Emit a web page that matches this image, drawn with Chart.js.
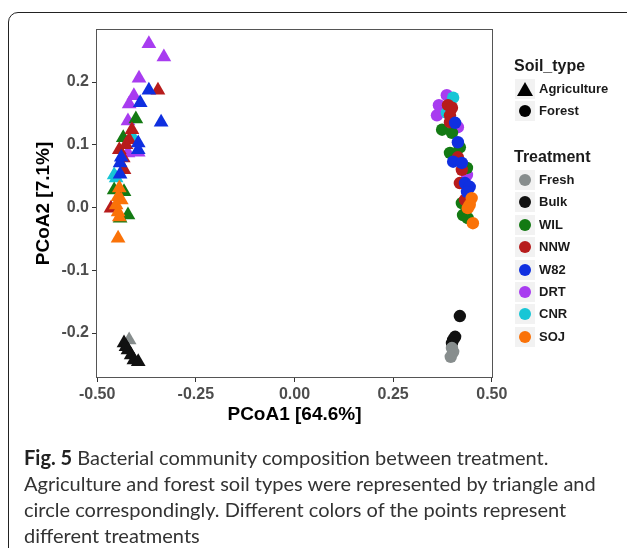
<!DOCTYPE html>
<html>
<head>
<meta charset="utf-8">
<script src="https://cdn.jsdelivr.net/npm/chart.js@4"></script>
<style>
  html, body { margin: 0; padding: 0; background: #fff; }
  body { width: 627px; height: 548px; position: relative; overflow: hidden; }
  #frame { position: absolute; left: 8px; top: 12px; width: 640px; height: 560px;
           border: 1.5px solid #222; border-radius: 10px; box-sizing: border-box; }
  #wrap { position: absolute; left: 0; top: 0; width: 627px; height: 548px; }
  .leg { position: absolute; font-family: "Liberation Sans", Arial, sans-serif; font-weight: bold; color: #1a1a1a; }
  .legTitle { font-size: 16px; left: 514px; }
  .legItem { font-size: 13px; left: 539px; line-height: 16px; }
  .key { position: absolute; left: 515px; width: 20px; height: 20px; background: #f2f2f2; }
  .key .c { position: absolute; left: 4px; top: 4px; width: 12px; height: 12px; border-radius: 50%; }
  .key .t { position: absolute; left: 2px; top: 3px; width: 16px; height: 14px; background: #000;
            clip-path: polygon(50% 0, 100% 100%, 0 100%); }
  #caption { position: absolute; left: 24px; top: 444px; font-family: Lato, "Open Sans", sans-serif;
             font-size: 20px; color: #333; line-height: 26px; white-space: nowrap; }
  #caption b { color: #222; }
</style>
</head>
<body>
<div id="frame"></div>
<div id="wrap"><canvas id="pcoa" width="627" height="548"></canvas></div>
<div id="legend"></div>
<div id="caption">
  <div><b>Fig. 5</b> Bacterial community composition between treatment.</div>
  <div>Agriculture and forest soil types were represented by triangle and</div>
  <div>circle correspondingly. Different colors of the points represent</div>
  <div>different treatments</div>
</div>
<script>
// dados (PCoA1, PCoA2)
const treatments = ['Fresh', 'Bulk', 'WIL', 'NNW', 'W82', 'DRT', 'CNR', 'SOJ'];
const soilTypes = ['Agriculture', 'Forest'];
const xTicks = [-0.5, -0.25, 0, 0.25, 0.5];
const yTicks = [-0.2, -0.1, 0, 0.1, 0.2];

// Agriculture (triângulos)
const agriFresh = [[-0.419, -0.211]];
const agriBulk = [[-0.432, -0.216], [-0.427, -0.222], [-0.422, -0.227], [-0.414, -0.235], [-0.407, -0.243], [-0.396, -0.246]];
const agriWIL = [[-0.402, 0.141], [-0.434, 0.111], [-0.457, 0.028], [-0.432, 0.025], [-0.422, -0.012], [-0.442, -0.017]];
const agriNNW = [[-0.346, 0.187], [-0.412, 0.124], [-0.419, 0.108], [-0.427, 0.100], [-0.444, 0.092], [-0.434, 0.079], [-0.432, 0.060], [-0.465, -0.001]];
const agriW82 = [[-0.369, 0.187], [-0.391, 0.167], [-0.338, 0.136], [-0.396, 0.103], [-0.439, 0.080], [-0.396, 0.092], [-0.442, 0.071], [-0.442, 0.053]];
const agriDRT = [[-0.369, 0.261], [-0.331, 0.240], [-0.394, 0.206], [-0.407, 0.178], [-0.419, 0.165], [-0.422, 0.138], [-0.422, 0.087], [-0.396, 0.088]];
const agriCNR = [[-0.409, 0.112], [-0.457, 0.052], [-0.452, 0.047]];
const agriSOJ = [[-0.444, 0.031], [-0.447, 0.017], [-0.439, 0.012], [-0.452, 0.004], [-0.447, -0.007], [-0.444, -0.015], [-0.447, -0.049]];

// Forest (círculos)
const forestFresh = [[0.399, -0.224], [0.402, -0.230], [0.396, -0.238]];
const forestBulk = [[0.419, -0.173], [0.407, -0.206], [0.402, -0.211], [0.399, -0.216]];
const forestWIL = [[0.374, 0.124], [0.399, 0.119], [0.419, 0.096], [0.394, 0.087], [0.437, 0.063], [0.424, 0.007], [0.427, -0.012], [0.439, -0.017]];
const forestNNW = [[0.389, 0.163], [0.399, 0.159], [0.394, 0.147], [0.394, 0.136], [0.414, 0.080], [0.424, 0.060], [0.419, 0.039], [0.432, 0.012]];
const forestW82 = [[0.407, 0.135], [0.414, 0.104], [0.402, 0.073], [0.424, 0.071], [0.432, 0.039], [0.444, 0.033], [0.437, 0.025]];
const forestDRT = [[0.386, 0.179], [0.366, 0.163], [0.361, 0.147], [0.414, 0.128], [0.437, 0.052]];
const forestCNR = [[0.402, 0.175], [0.386, 0.151], [0.434, 0.036]];
const forestSOJ = [[0.449, 0.015], [0.444, 0.004], [0.439, -0.001], [0.452, -0.025]];

const cores = { Fresh: '#878d8d', Bulk: '#111111', WIL: '#137a13', NNW: '#b71c1c', W82: '#0f2fe0', DRT: '#a83cf0', CNR: '#17c6d6', SOJ: '#fa7208' };

// ordem de desenho (de baixo para cima)
const camadas = [
  ['DRT', agriDRT, 'Agriculture'], ['CNR', agriCNR, 'Agriculture'], ['WIL', agriWIL, 'Agriculture'],
  ['NNW', agriNNW, 'Agriculture'], ['W82', agriW82, 'Agriculture'], ['SOJ', agriSOJ, 'Agriculture'],
  ['Fresh', agriFresh, 'Agriculture'], ['Bulk', agriBulk, 'Agriculture'],
  ['DRT', forestDRT, 'Forest'], ['CNR', forestCNR, 'Forest'], ['WIL', forestWIL, 'Forest'],
  ['NNW', forestNNW, 'Forest'], ['W82', forestW82, 'Forest'], ['SOJ', forestSOJ, 'Forest'],
  ['Bulk', forestBulk, 'Forest'], ['Fresh', forestFresh, 'Forest']
];

const datasets = camadas.map((c, i) => ({
  label: c[0] + ' ' + c[2],
  data: c[1].map(p => ({ x: p[0], y: p[1] })),
  pointStyle: c[2] === 'Agriculture' ? 'triangle' : 'circle',
  pointRadius: c[2] === 'Agriculture' ? 8.5 : 6.2,
  backgroundColor: cores[c[0]],
  borderWidth: 0,
  order: 100 - i
}));

// borda do painel
const bordaPainel = {
  id: 'bordaPainel',
  beforeDatasetsDraw(chart) {
    const a = chart.chartArea, ctx = chart.ctx;
    ctx.save();
    ctx.strokeStyle = '#555';
    ctx.lineWidth = 1;
    ctx.strokeRect(a.left + 0.5, a.top + 0.5, a.right - a.left - 1, a.bottom - a.top - 1);
    ctx.restore();
  }
};

const fonteTick = { family: 'Liberation Sans', size: 16, weight: 'bold' };
const fonteTitulo = { family: 'Liberation Sans', size: 19, weight: 'bold' };

new Chart(document.getElementById('pcoa'), {
  type: 'scatter',
  data: { datasets: datasets },
  options: {
    responsive: false,
    animation: false,
    layout: { padding: { left: 0, top: 29, right: 134, bottom: 100 } },
    plugins: { legend: { display: false }, tooltip: { enabled: false } },
    scales: {
      x: {
        min: -0.503, max: 0.503,
        afterBuildTicks: s => { s.ticks = xTicks.map(v => ({ value: v })); },
        afterFit: s => { s.height = 70; },
        border: { display: false },
        grid: { drawOnChartArea: false, tickLength: 4, tickColor: '#333', tickWidth: 1 },
        ticks: { color: '#4d4d4d', font: fonteTick, padding: 3, maxRotation: 0, callback: v => v.toFixed(2) },
        title: { display: true, text: 'PCoA1 [64.6%]', color: '#000', font: fonteTitulo, padding: { top: 0, bottom: 22 } }
      },
      y: {
        min: -0.2717, max: 0.2845,
        afterBuildTicks: s => { s.ticks = yTicks.map(v => ({ value: v })); },
        afterFit: s => { s.width = 96; },
        border: { display: false },
        grid: { drawOnChartArea: false, tickLength: 4, tickColor: '#333', tickWidth: 1 },
        ticks: { color: '#4d4d4d', font: fonteTick, padding: 3, callback: v => v.toFixed(1) },
        title: { display: true, text: 'PCoA2 [7.1%]', color: '#000', font: fonteTitulo, padding: { top: 32, bottom: 0 } }
      }
    }
  },
  plugins: [bordaPainel]
});

// legenda (HTML)
function montarLegenda() {
  const leg = document.getElementById('legend');
  let html = '';
  html += `<div class="leg legTitle" style="top:57px">Soil_type</div>`;
  const ySoil = [89, 111];
  soilTypes.forEach((s, i) => {
    const forma = s === 'Agriculture' ? '<div class="t"></div>' : '<div class="c" style="background:#000"></div>';
    html += `<div class="key" style="top:${ySoil[i] - 10}px">${forma}</div>`;
    html += `<div class="leg legItem" style="top:${ySoil[i] - 8}px">${s}</div>`;
  });
  html += `<div class="leg legTitle" style="top:148px">Treatment</div>`;
  treatments.forEach((t, i) => {
    const y = 180 + i * 22.4;
    html += `<div class="key" style="top:${y - 10}px"><div class="c" style="background:${cores[t]}"></div></div>`;
    html += `<div class="leg legItem" style="top:${y - 8}px">${t}</div>`;
  });
  leg.innerHTML = html;
}
montarLegenda();
</script>
</body>
</html>
